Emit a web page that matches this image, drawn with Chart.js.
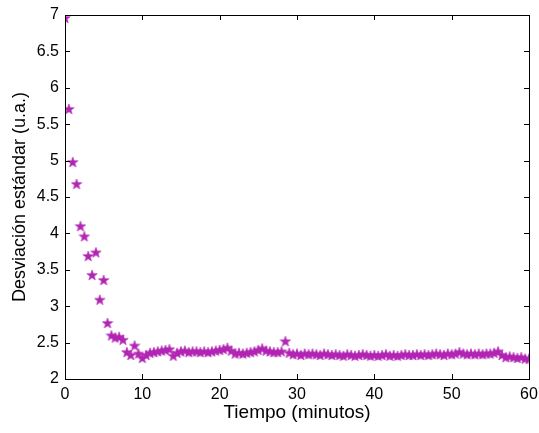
<!DOCTYPE html>
<html>
<head>
<meta charset="utf-8">
<script src="https://cdn.jsdelivr.net/npm/chart.js@4"></script>
<style>
  html, body { margin: 0; padding: 0; background: #fff; }
  #wrap { width: 539px; height: 433px; }
</style>
</head>
<body>
<div id="wrap"><canvas id="myChart" width="539" height="433"></canvas></div>
<script>
// tiempo en minutos
const tiempos = [
  0, 0.5, 1, 1.5, 2, 2.5, 3, 3.5, 4, 4.5, 5, 5.5, 6, 6.5, 7, 7.5, 8, 8.5, 9, 9.5,
  10, 10.5, 11, 11.5, 12, 12.5, 13, 13.5, 14, 14.5, 15, 15.5, 16, 16.5, 17, 17.5, 18, 18.5, 19, 19.5,
  20, 20.5, 21, 21.5, 22, 22.5, 23, 23.5, 24, 24.5, 25, 25.5, 26, 26.5, 27, 27.5, 28, 28.5, 29, 29.5,
  30, 30.5, 31, 31.5, 32, 32.5, 33, 33.5, 34, 34.5, 35, 35.5, 36, 36.5, 37, 37.5, 38, 38.5, 39, 39.5,
  40, 40.5, 41, 41.5, 42, 42.5, 43, 43.5, 44, 44.5, 45, 45.5, 46, 46.5, 47, 47.5, 48, 48.5, 49, 49.5,
  50, 50.5, 51, 51.5, 52, 52.5, 53, 53.5, 54, 54.5, 55, 55.5, 56, 56.5, 57, 57.5, 58, 58.5, 59, 59.5,
  60
];
// desviacion estandar (u.a.)
const desviacion = [
  6.96, 5.71, 4.98, 4.68, 4.10, 3.96, 3.69, 3.43, 3.74, 3.09, 3.36, 2.77, 2.60, 2.57, 2.58, 2.54, 2.37, 2.33, 2.46, 2.35,
  2.29, 2.33, 2.36, 2.37, 2.38, 2.39, 2.40, 2.41, 2.32, 2.36, 2.38, 2.39, 2.37, 2.38, 2.38, 2.37, 2.38, 2.37, 2.38, 2.39,
  2.40, 2.41, 2.43, 2.39, 2.35, 2.36, 2.35, 2.36, 2.37, 2.38, 2.40, 2.42, 2.39, 2.38, 2.37, 2.37, 2.38, 2.52, 2.36, 2.34,
  2.35, 2.33, 2.35, 2.34, 2.35, 2.34, 2.33, 2.35, 2.34, 2.33, 2.34, 2.33, 2.32, 2.34, 2.33, 2.32, 2.33, 2.34, 2.33, 2.32,
  2.33, 2.32, 2.33, 2.34, 2.32, 2.33, 2.32, 2.33, 2.34, 2.33, 2.33, 2.34, 2.33, 2.34, 2.33, 2.34, 2.35, 2.34, 2.33, 2.35,
  2.34, 2.35, 2.37, 2.35, 2.34, 2.35, 2.34, 2.35, 2.34, 2.35, 2.35, 2.36, 2.38, 2.33, 2.30, 2.31, 2.30, 2.29, 2.30, 2.28,
  2.28
];
const xTicks = [0, 10, 20, 30, 40, 50, 60];
const yTicks = [2, 2.5, 3, 3.5, 4, 4.5, 5, 5.5, 6, 6.5, 7];

const color = '#b225b4';
const fontName = '"Liberation Sans", Arial, sans-serif';

// pentagrama relleno (como el marcador 'p' de MATLAB)
function makeStar(size) {
    const c = document.createElement('canvas');
    c.width = size;
    c.height = size;
    const g = c.getContext('2d');
    const cx = size / 2, cy = size / 2 + 0.5;
    const R = size / 2 - 0.5, r = R * 0.4;
    g.beginPath();
    for (let i = 0; i < 10; i++) {
        const a = -Math.PI / 2 + i * Math.PI / 5;
        const rad = i % 2 === 0 ? R : r;
        const px = cx + rad * Math.cos(a), py = cy + rad * Math.sin(a);
        if (i === 0) g.moveTo(px, py); else g.lineTo(px, py);
    }
    g.closePath();
    g.fillStyle = color;
    g.fill();
    g.strokeStyle = color;
    g.lineWidth = 0.6;
    g.stroke();
    return c;
}
const star = makeStar(12);

// caja y marcas hacia adentro, estilo MATLAB
const boxPlugin = {
    id: 'box',
    afterDraw(chart) {
        const { ctx, chartArea: a, scales } = chart;
        ctx.save();
        ctx.strokeStyle = '#000';
        ctx.lineWidth = 1;
        ctx.strokeRect(a.left + 0.5, a.top + 0.5, a.right - a.left, a.bottom - a.top);
        ctx.beginPath();
        xTicks.forEach(v => {
            const px = Math.round(scales.x.getPixelForValue(v)) + 0.5;
            ctx.moveTo(px, a.bottom); ctx.lineTo(px, a.bottom - 5);
            ctx.moveTo(px, a.top); ctx.lineTo(px, a.top + 5);
        });
        yTicks.forEach(v => {
            const py = Math.round(scales.y.getPixelForValue(v)) + 0.5;
            ctx.moveTo(a.left, py); ctx.lineTo(a.left + 5, py);
            ctx.moveTo(a.right, py); ctx.lineTo(a.right - 5, py);
        });
        ctx.stroke();
        ctx.restore();
    }
};

const points = tiempos.map((t, i) => ({ x: t, y: desviacion[i] }));

let ctx = document.getElementById('myChart').getContext('2d');
let myChart = new Chart(ctx, {
    type: 'scatter',
    data: {
        datasets: [{
            label: 'Desviación estándar',
            data: points,
            pointStyle: star,
            backgroundColor: color,
            borderColor: color
        }]
    },
    options: {
        responsive: false,
        animation: false,
        layout: { padding: { top: 15, right: 10, left: 0, bottom: 0 } },
        plugins: {
            legend: { display: false },
            tooltip: { enabled: false }
        },
        scales: {
            x: {
                type: 'linear',
                min: 0,
                max: 60,
                afterBuildTicks: s => { s.ticks = xTicks.map(v => ({ value: v })); },
                grid: { display: false, drawTicks: false },
                border: { display: false },
                ticks: { color: '#000', font: { family: fontName, size: 16 }, padding: 6, maxRotation: 0, callback: v => String(v) },
                title: { display: true, text: 'Tiempo (minutos)', color: '#000', font: { family: fontName, size: 19 }, padding: { top: 0, bottom: 9 } },
                afterFit: s => { s.height = 54; s.paddingLeft = 0; s.paddingRight = 0; }
            },
            y: {
                min: 2,
                max: 7,
                afterBuildTicks: s => { s.ticks = yTicks.map(v => ({ value: v })); },
                grid: { display: false, drawTicks: false },
                border: { display: false },
                ticks: { color: '#000', font: { family: fontName, size: 16 }, padding: 6, callback: v => String(v) },
                title: { display: true, text: 'Desviación estándar (u.a.)', color: '#000', font: { family: fontName, size: 18 }, padding: { top: 9, bottom: 0 } },
                afterFit: s => { s.width = 65; s.paddingTop = 0; s.paddingBottom = 0; }
            }
        }
    },
    plugins: [boxPlugin]
});
</script>
</body>
</html>
